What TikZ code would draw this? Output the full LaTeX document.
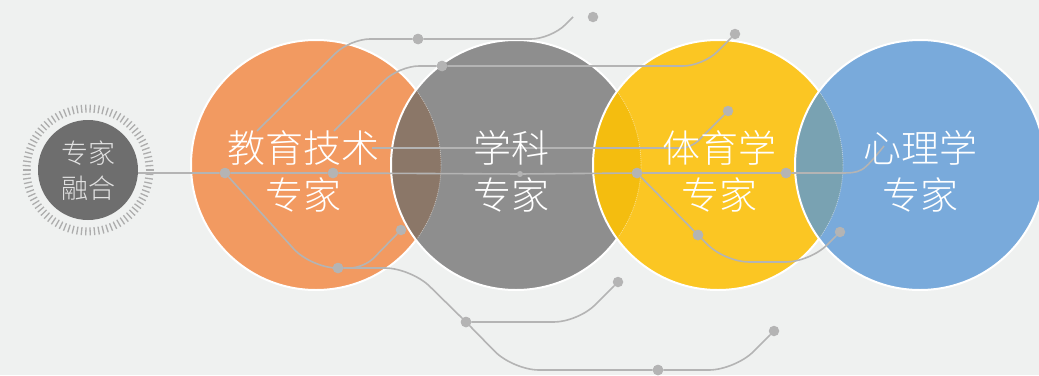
\documentclass[tikz,border=0pt]{standalone}
\usepackage{fontspec}
\IfFontExistsTF{Noto Sans CJK SC Light}
  {\newfontfamily\cjk{Noto Sans CJK SC Light}}
  {\newfontfamily\cjk{Noto Sans CJK SC}}
\definecolor{bg}{HTML}{EFF1F0}
\definecolor{cor}{HTML}{F29A61}
\definecolor{cgr}{HTML}{8E8E8E}
\definecolor{cye}{HTML}{FBC623}
\definecolor{cbl}{HTML}{79AADB}
\definecolor{lOG}{HTML}{8B7768}
\definecolor{lGY}{HTML}{F4BD0F}
\definecolor{lYB}{HTML}{79A2B2}
\definecolor{lncol}{HTML}{B4B4B4}
\definecolor{bdark}{HTML}{6E6E6E}
\definecolor{tickcol}{HTML}{ADADAD}
\definecolor{btext}{HTML}{E2E2E2}
\tikzset{
  ring/.style={draw=white, line width=2pt},
  faint/.style={draw=white, draw opacity=0.45, line width=0.8pt, dash pattern=on 1pt off 1pt},
  conn/.style={draw=lncol, line width=1.6pt},
  dotn/.style={circle, fill=lncol, inner sep=0pt, minimum size=10.5pt},
  smalldot/.style={circle, fill=lncol, inner sep=0pt, minimum size=6pt},
  bigtxt/.style={font=\cjk\fontsize{38pt}{47pt}\selectfont, text=white, align=center, inner sep=0pt},
  badgetxt/.style={font=\cjk\fontsize{27pt}{35pt}\selectfont, text=btext, align=center, inner sep=0pt},
}
\begin{document}
\begin{tikzpicture}[x=1pt,y=-1pt]
\fill[bg] (0,0) rectangle (1039,375);
\useasboundingbox (0,0) rectangle (1039,375);
% circle centres
\coordinate (O) at (316,165);
\coordinate (G) at (516,165);
\coordinate (Y) at (718,165);
\coordinate (Bl) at (920,165);
% orange
\fill[cor] (O) circle[radius=125pt];
\draw[ring] (O) circle[radius=125pt];
% gray
\fill[cgr] (G) circle[radius=125pt];
\begin{scope}\clip (O) circle[radius=125pt]; \fill[lOG] (G) circle[radius=125pt];\end{scope}
\draw[ring] (G) circle[radius=125pt];
\begin{scope}\clip (G) circle[radius=123pt]; \draw[faint] (O) circle[radius=125pt];\end{scope}
% yellow
\fill[cye] (Y) circle[radius=125pt];
\begin{scope}\clip (G) circle[radius=125pt]; \fill[lGY] (Y) circle[radius=125pt];\end{scope}
\draw[ring] (Y) circle[radius=125pt];
\begin{scope}\clip (Y) circle[radius=123pt]; \draw[faint] (G) circle[radius=125pt];\end{scope}
% blue
\fill[cbl] (Bl) circle[radius=125pt];
\begin{scope}\clip (Y) circle[radius=125pt]; \fill[lYB] (Bl) circle[radius=125pt];\end{scope}
\draw[ring] (Bl) circle[radius=125pt];
\begin{scope}\clip (Bl) circle[radius=123pt]; \draw[faint] (Y) circle[radius=125pt];\end{scope}

% badge
\coordinate (Bc) at (88,170);
\foreach \a in {0,4,...,356}
  \draw[tickcol, line width=1.3pt] (Bc) ++(\a:57.5pt) -- ++(\a:8pt);
\node[circle, fill=bdark, minimum size=100pt, inner sep=0pt] (badge) at (Bc) {};

% dots
\node[dotn] (dA1) at (225,173) {};
\node[dotn] (dA2) at (333,173) {};
\node[smalldot] (dA3) at (520,174) {};
\node[dotn] (dA4) at (637,173) {};
\node[dotn] (dA5) at (786,173) {};
\node[dotn] (dC1) at (418,39) {};
\node[dotn] (dC2) at (593,17) {};
\node[dotn] (dD1) at (442,66) {};
\node[dotn] (dD2) at (735,34) {};
\node[dotn] (dB) at (728,111) {};
\node[dotn] (dL1) at (338,268) {};
\node[dotn] (dL2) at (401,230) {};
\node[dotn] (dL3) at (466,322) {};
\node[dotn] (dL4) at (618,282) {};
\node[dotn] (dL5) at (658,370) {};
\node[dotn] (dL6) at (774,331) {};
\node[dotn] (dY1) at (698,235) {};
\node[dotn] (dY2) at (840,232) {};

% free ends and corners
\coordinate (mS) at (badge.east |- dA1);
\coordinate (mEnd) at (884,146);
\coordinate (mK) at (838,173);
\coordinate (cS) at (257,131);
\coordinate (cK1) at (350,39);
\coordinate (cK2) at (551,39);
\coordinate (cE) at (573,17);
\coordinate (dS) at (334,131);
\coordinate (dK1) at (399,66);
\coordinate (dK2) at (703,66);
\coordinate (bS) at (372,148);
\coordinate (bK) at (691,148);
\coordinate (lK1) at (311,268);
\coordinate (lK2) at (411,268);
\coordinate (lK3) at (513,370);
\coordinate (lK4) at (735,370);
\coordinate (sK) at (364,268);
\coordinate (tK) at (578,322);
\coordinate (yK1) at (725,262);
\coordinate (yK2) at (810,262);

% connectors
\path[conn] (mS) -- (dA1) -- (dA2) -- (dA3) -- (dA4) -- (dA5) -- (mK) .. controls (862,173) .. (mEnd);
\path[conn, rounded corners=20pt] (cS) -- (cK1) -- (dC1) -- (cK2) -- (cE);
\path[conn, rounded corners=20pt] (dS) -- (dK1) -- (dD1) -- (dK2) -- (dD2);
\path[conn, rounded corners=10pt] (bS) -- (bK) -- (dB);
\path[conn, rounded corners=26pt] (dA1) -- (lK1) -- (dL1) -- (lK2) -- (dL3) -- (lK3) -- (dL5) -- (lK4) -- (dL6);
\path[conn, rounded corners=14pt] (dL1) -- (sK) -- (dL2);
\path[conn, rounded corners=24pt] (dL3) -- (tK) -- (dL4);
\path[conn, rounded corners=24pt] (dA4) -- (dY1) -- (yK1) -- (yK2) -- (dY2);
% redraw dots on top of lines
\foreach \n in {dA1,dA2,dA4,dA5,dC1,dD1,dL1,dL3,dL5,dY1}
  \fill[lncol] (\n) circle[radius=5.25pt];

% texts
\node[badgetxt] (tBadge) at (88,170.5) {专家\\融合};
\node[bigtxt] (tO) at (303,171.5) {教育技术\\专家};
\node[bigtxt] (tG) at (511,171.5) {学科\\专家};
\node[bigtxt] (tY) at (719,171.5) {体育学\\专家};
\node[bigtxt] (tB) at (920,171.5) {心理学\\专家};
\end{tikzpicture}
\end{document}
